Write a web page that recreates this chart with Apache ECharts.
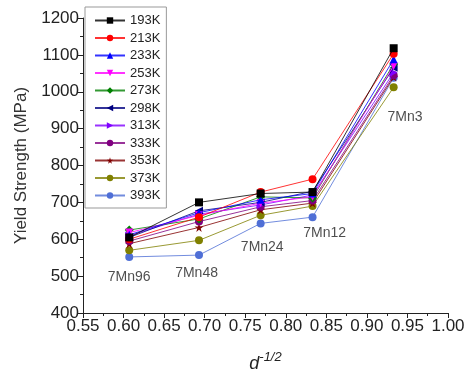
<!DOCTYPE html>
<html><head><meta charset="utf-8">
<script src="https://cdn.jsdelivr.net/npm/echarts@6/dist/echarts.min.js"></script>
<style>html,body{margin:0;padding:0;background:#fff}#c{width:465px;height:370px}</style>
</head><body><div id="c"></div>
<script>
const xValues = [0.607, 0.693, 0.769, 0.833, 0.933];
const seriesNames = ['193K','213K','233K','253K','273K','298K','313K','333K','353K','373K','393K'];
const s193 = [605, 700, 724, 728, 1118];
const s213 = [600, 660, 728, 763, 1103];
const s233 = [612, 672, 707, 724, 1088];
const s253 = [618, 665, 698, 715, 1070];
const s273 = [625, 655, 715, 712, 1075];
const s298 = [605, 677, 700, 730, 1065];
const s313 = [610, 668, 693, 720, 1052];
const s333 = [595, 648, 688, 705, 1045];
const s353 = [588, 632, 680, 698, 1040];
const s373 = [570, 597, 665, 690, 1012];
const s393 = [552, 557, 643, 660, 1038];
const annNames = ['7Mn96','7Mn48','7Mn24','7Mn12','7Mn3'];
const annX = [0.607, 0.690, 0.771, 0.848, 0.947];
const annY = [497, 508, 579, 617, 931];
const xTicks = {min: 0.55, max: 1.00, interval: 0.05};
const yTicks = {min: 400, max: 1200, interval: 100};

const allValues = [s193,s213,s233,s253,s273,s298,s313,s333,s353,s373,s393];
const colors = ['#000000','#ff0000','#0000ff','#ff00ff','#008000','#000080','#8000ff','#800080','#800000','#808000','#4f6fd6'];
const symbols = ['rect','circle','triangle','triangle','diamond','triangle','triangle','circle','path://M50,0 L61,35 L98,35 L68,57 L79,91 L50,70 L21,91 L32,57 L2,35 L39,35 Z','circle','circle'];
const rotates = [0,0,0,180,0,90,-90,0,0,0,0];
const sizes = [8,8,8,8,9,8,8,8,9,8,8];

const series = seriesNames.map((n,i)=>({
  name: n, type: 'line',
  data: xValues.map((x,j)=>[x, allValues[i][j]]),
  symbol: symbols[i], symbolRotate: rotates[i], symbolSize: sizes[i],
  itemStyle: {color: colors[i]},
  lineStyle: {width: 1, color: colors[i], opacity: 0.8},
  z: 20 - i
}));
series.push({
  type: 'scatter', symbolSize: 0, silent: true,
  data: annNames.map((n,i)=>({value:[annX[i], annY[i]], name:n})),
  label: {show: true, position: 'inside', formatter: p=>p.name, color: '#222', fontSize: 14, fontFamily: 'Liberation Sans'}
});

const chart = echarts.init(document.getElementById('c'));
chart.setOption({
  animation: false,
  textStyle: {fontFamily: 'Liberation Sans'},
  grid: {left: 83, right: 17, top: 18, bottom: 57, containLabel: false, outerBoundsMode: 'none'},
  legend: {
    data: seriesNames, orient: 'vertical', left: 85, top: 7,
    padding: [7, 6, 6, 9], itemGap: 4.5, itemWidth: 30, itemHeight: 8,
    borderColor: '#999', borderWidth: 1, backgroundColor: '#fff',
    textStyle: {fontSize: 13, color: '#222', fontFamily: 'Liberation Sans'}
  },
  xAxis: {
    type: 'value', min: xTicks.min, max: xTicks.max, interval: xTicks.interval,
    axisLine: {lineStyle: {color: '#222', width: 1}},
    axisTick: {show: true, length: 5, lineStyle: {color: '#222'}},
    minorTick: {show: true, splitNumber: 2, length: 3, lineStyle: {color: '#222'}},
    splitLine: {show: false},
    axisLabel: {fontSize: 17, color: '#222', margin: 5, formatter: v=>v.toFixed(2)},
    name: '{d|d}{s|-1/2}', nameLocation: 'middle', nameGap: 38,
    nameTextStyle: {rich: {
      d: {fontSize: 18, fontStyle: 'italic', color: '#222', verticalAlign: 'bottom', lineHeight: 22},
      s: {fontSize: 13, fontStyle: 'italic', color: '#222', verticalAlign: 'top', lineHeight: 22}
    }}
  },
  yAxis: {
    type: 'value', min: yTicks.min, max: yTicks.max, interval: yTicks.interval,
    axisLine: {show: true, lineStyle: {color: '#222', width: 1}},
    axisTick: {show: true, length: 5, lineStyle: {color: '#222'}},
    minorTick: {show: true, splitNumber: 2, length: 3, lineStyle: {color: '#222'}},
    splitLine: {show: false},
    axisLabel: {fontSize: 17, color: '#222', margin: 4, formatter: v=>String(v)},
    name: 'Yield Strength (MPa)', nameLocation: 'middle', nameGap: 53,
    nameTextStyle: {fontSize: 17, color: '#333'}
  },
  series: series
});
</script></body></html>
